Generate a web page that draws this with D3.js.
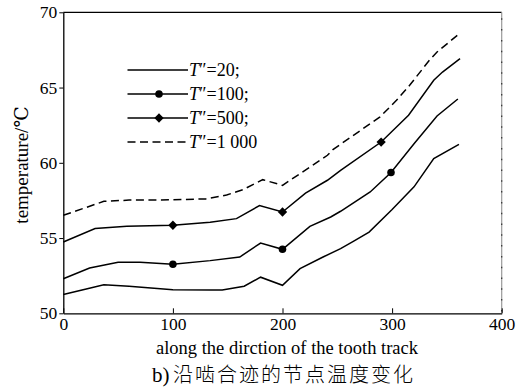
<!DOCTYPE html>
<html>
<head>
<meta charset="utf-8">
<script src="https://cdn.jsdelivr.net/npm/d3@7"></script>
<style>
  html, body { margin: 0; padding: 0; background: #fff; }
  svg { display: block; }
  text { font-family: "Liberation Serif", "Times New Roman", Times, "DejaVu Serif", serif; fill: #000; }
</style>
</head>
<body>
<svg id="chart" width="518" height="392"></svg>
<script>
// Positions along the tooth track and node temperatures for each T″ value
const xT20 = [0, 20, 37, 60, 100, 135, 145, 165, 180, 200, 216, 237, 253, 265, 279, 300, 320, 338, 361];
const yT20 = [51.25, 51.6, 51.9, 51.8, 51.57, 51.55, 51.55, 51.8, 52.4, 51.86, 52.97, 53.74, 54.3, 54.8, 55.4, 56.9, 58.4, 60.28, 61.23];

const xT100 = [0, 24, 50, 70, 100, 134, 161, 180, 200, 225, 244, 253, 280, 299, 320, 341, 360];
const yT100 = [52.3, 53.01, 53.39, 53.39, 53.26, 53.5, 53.74, 54.67, 54.25, 55.78, 56.4, 56.78, 58.06, 59.35, 61.27, 63.11, 64.24];

const xT500 = [0, 29, 58, 100, 134, 158, 179, 200, 221, 241, 253, 290, 315, 338, 346, 362];
const yT500 = [54.74, 55.63, 55.78, 55.85, 56.05, 56.29, 57.16, 56.73, 57.99, 58.84, 59.5, 61.38, 63.16, 65.48, 66.03, 66.92];

const xT1000 = [0, 37, 60, 100, 130, 149, 164, 182, 200, 216, 241, 246, 289, 304, 316, 334, 341, 362];
const yT1000 = [56.51, 57.44, 57.52, 57.54, 57.6, 57.86, 58.22, 58.88, 58.5, 59.28, 60.5, 60.88, 63.05, 64.15, 65.15, 66.81, 67.36, 68.62];

// Marked sample points on the T″=100 and T″=500 curves
const markT100 = [[100, 53.26], [200, 54.25], [299, 59.35]];
const markT500 = [[100, 55.85], [200, 56.73], [290, 61.38]];

const xTicks = [0, 100, 200, 300, 400];
const yTicks = [50, 55, 60, 65, 70];
const legendLabels = ["T\u2033=20;", "T\u2033=100;", "T\u2033=500;", "T\u2033=1 000"];

const xLabel = "along the dirction of the tooth track";
const yLabel = "temperature/℃";
const captionTag = "b)";
const caption = "沿啮合迹的节点温度变化";

const SERIF = '"Liberation Serif", "Times New Roman", Times, "DejaVu Serif", serif';

const svg = d3.select("#chart");
const plotL = 63.3, plotR = 501.7, plotT = 12.3, plotB = 313.3;

const x = d3.scaleLinear().domain([0, 400]).range([plotL, plotR]);
const y = d3.scaleLinear().domain([50, 70]).range([plotB, plotT]);

// Frame: solid top, grey right edge with small dark marks
svg.append("line").attr("x1", plotL).attr("x2", plotR).attr("y1", plotT).attr("y2", plotT)
  .attr("stroke", "#000").attr("stroke-width", 1.3);
svg.append("line").attr("x1", plotR).attr("x2", plotR).attr("y1", plotT).attr("y2", plotB)
  .attr("stroke", "#999").attr("stroke-width", 1.2);
svg.append("line").attr("x1", plotR).attr("x2", plotR).attr("y1", plotT + 6).attr("y2", plotB)
  .attr("stroke", "#333").attr("stroke-width", 1.2).attr("stroke-dasharray", "1.5,9.3");

// Axes
const xAxis = d3.axisBottom(x).tickValues(xTicks).tickSizeInner(-5).tickSizeOuter(0).tickPadding(6);
const gx = svg.append("g").attr("transform", `translate(0,${plotB})`).call(xAxis)
  .attr("font-family", SERIF);
gx.select(".domain").attr("stroke", "#000").attr("stroke-width", 1.3);
gx.selectAll(".tick line").attr("stroke", "#000").attr("stroke-width", 1);
gx.selectAll(".tick text").attr("font-size", 17.5).style("font-family", SERIF).attr("dy", "0.6em");

const yAxis = d3.axisLeft(y).tickValues(yTicks).tickSizeInner(4).tickSizeOuter(0).tickPadding(2);
const gy = svg.append("g").attr("transform", `translate(${plotL},0)`).call(yAxis)
  .attr("font-family", SERIF);
gy.select(".domain").attr("stroke", "#000").attr("stroke-width", 1.3);
gy.selectAll(".tick line").attr("stroke", "#000").attr("stroke-width", 1);
gy.selectAll(".tick text").attr("font-size", 17.5).style("font-family", SERIF);

// Curves
const line = d3.line().x(d => x(d[0])).y(d => y(d[1]));
const series = [
  { xs: xT20, ys: yT20, dash: null },
  { xs: xT100, ys: yT100, dash: null },
  { xs: xT500, ys: yT500, dash: null },
  { xs: xT1000, ys: yT1000, dash: "8,4.5" }
];
series.forEach(s => {
  const pts = s.xs.map((v, i) => [v, s.ys[i]]);
  svg.append("path").attr("d", line(pts)).attr("fill", "none")
    .attr("stroke", "#000").attr("stroke-width", 1.5)
    .attr("stroke-dasharray", s.dash);
});

const circleSym = d3.symbol().type(d3.symbolCircle).size(45);
const diamondSym = d3.symbol().type(d3.symbolDiamond2 || d3.symbolDiamond).size(55);
svg.selectAll(".m100").data(markT100).enter().append("path")
  .attr("d", circleSym).attr("transform", d => `translate(${x(d[0])},${y(d[1])})`).attr("fill", "#000");
svg.selectAll(".m500").data(markT500).enter().append("path")
  .attr("d", diamondSym).attr("transform", d => `translate(${x(d[0])},${y(d[1])})`).attr("fill", "#000");

// Legend
const legY = [70, 94, 118, 142];
const lx0 = 127.5, lx1 = 188;
legendLabels.forEach((lab, i) => {
  svg.append("line").attr("x1", lx0).attr("x2", lx1).attr("y1", legY[i]).attr("y2", legY[i])
    .attr("stroke", "#000").attr("stroke-width", 1.5)
    .attr("stroke-dasharray", i === 3 ? "8,4.5" : null);
  if (i === 1) svg.append("path").attr("d", circleSym).attr("transform", `translate(159,${legY[i]})`).attr("fill", "#000");
  if (i === 2) svg.append("path").attr("d", diamondSym).attr("transform", `translate(159,${legY[i]})`).attr("fill", "#000");
  const t = svg.append("text").attr("x", lx1 + 1).attr("y", legY[i]).attr("dy", "0.35em")
    .attr("font-size", 18).style("font-family", SERIF);
  t.append("tspan").attr("font-style", "italic").text(lab.slice(0, 1));
  t.append("tspan").text(lab.slice(1));
});

// Axis titles
svg.append("text").attr("x", 287).attr("y", 354).attr("text-anchor", "middle")
  .attr("font-size", 18.5).style("font-family", SERIF).text(xLabel);
svg.append("text").attr("transform", "translate(28,165) rotate(-90)").attr("text-anchor", "middle")
  .attr("font-size", 19).style("font-family", SERIF).text(yLabel);

// Caption
svg.append("text").attr("x", 152).attr("y", 382).attr("font-size", 21)
  .style("font-family", SERIF).text(captionTag);
svg.append("text").attr("x", 173).attr("y", 382).attr("font-size", 20)
  .style("font-family", '"Noto Sans CJK SC", sans-serif').attr("font-weight", 300)
  .attr("letter-spacing", 2).text(caption);
</script>
</body>
</html>
